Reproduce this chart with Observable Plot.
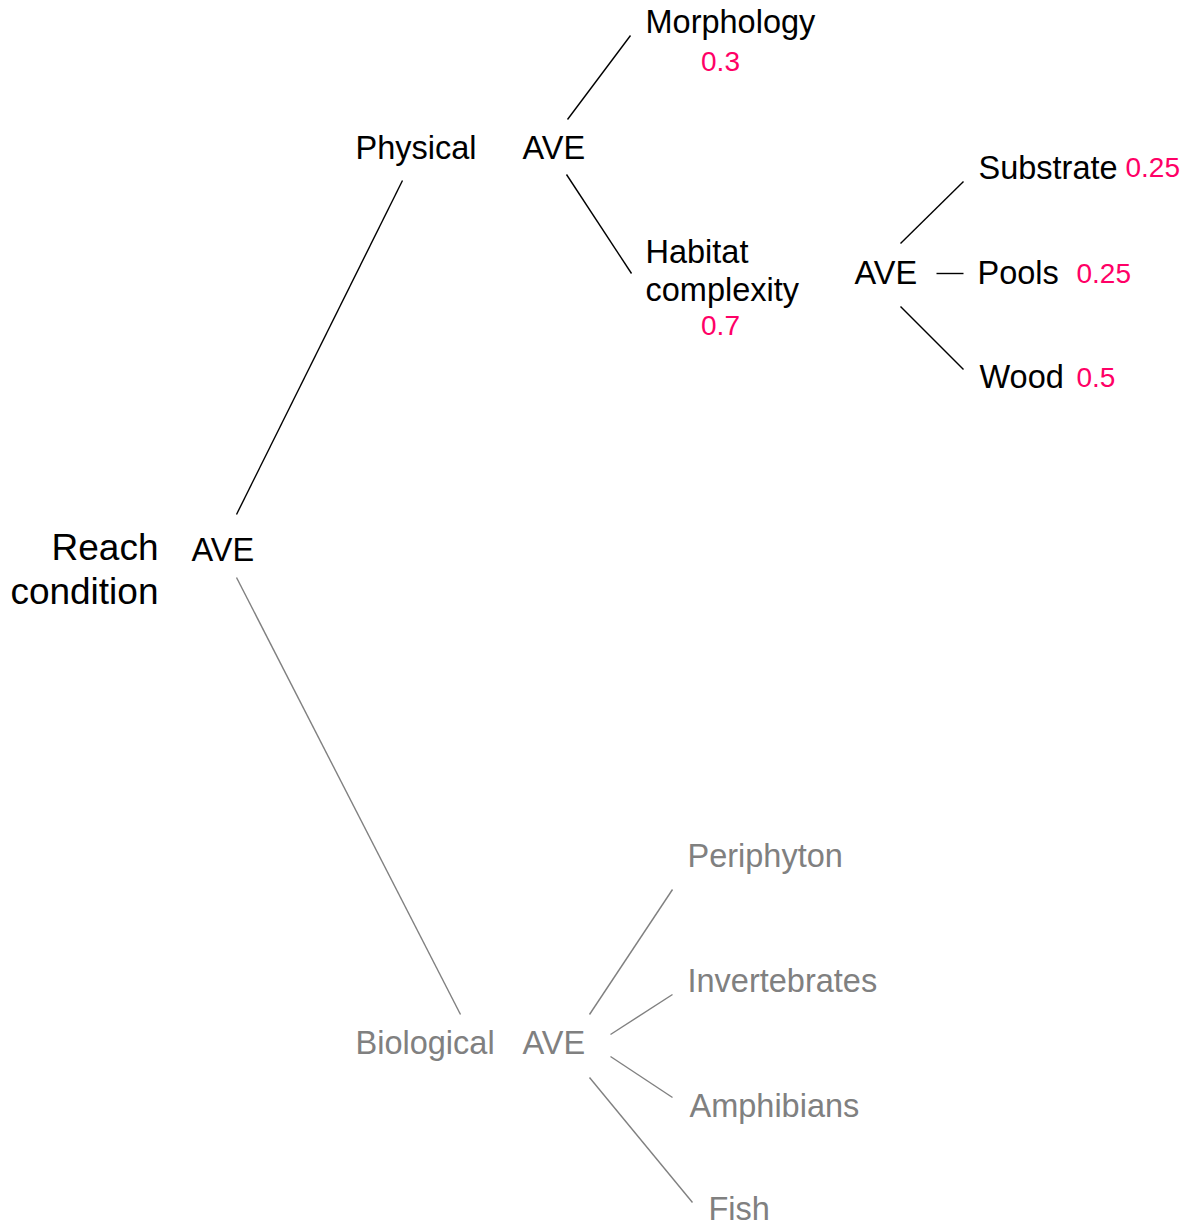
<!DOCTYPE html>
<html>
<head>
<meta charset="utf-8">
<script src="https://cdn.jsdelivr.net/npm/d3@7"></script>
<script src="https://cdn.jsdelivr.net/npm/@observablehq/plot@0.6"></script>
<style>
  html, body { margin: 0; padding: 0; background: #ffffff; }
  #chart svg { display: block; }
</style>
</head>
<body>
<div id="chart"></div>
<script>
// ---- Tree nodes (labels, branch membership, layout position in layout units) ----
const nodeLabels = ["Reach\ncondition", "AVE", "Physical", "AVE", "Morphology", "Habitat\ncomplexity",
  "AVE", "Substrate", "Pools", "Wood", "Biological", "AVE", "Periphyton", "Invertebrates", "Amphibians", "Fish"];
const nodeBranch = ["root", "root", "physical", "physical", "physical", "physical",
  "physical", "physical", "physical", "physical", "biological", "biological", "biological", "biological", "biological", "biological"];
const nodeLevel = ["title", "node", "node", "node", "node", "node",
  "node", "node", "node", "node", "node", "node", "node", "node", "node", "node"];
const nodeX = [158, 191, 355, 522, 645, 645, 854, 978, 977, 979, 355, 522, 687, 687, 689, 708];
const nodeY = [567, 548, 146, 146, 20, 269, 271, 166, 271, 375, 1041, 1041, 854, 979, 1104, 1207];

// ---- Weights attached to nodes ----
const weightLabels = ["0.3", "0.7", "0.25", "0.25", "0.5"];
const weightX = [720, 720, 1125, 1076, 1076];
const weightY = [61.5, 325.5, 168, 274, 378];
const weightAlign = ["middle", "middle", "start", "start", "start"];

// ---- Edges (parent -> child) with endpoints in layout units ----
const edgeFrom = ["Reach AVE", "Reach AVE", "Physical AVE", "Physical AVE", "Habitat AVE", "Habitat AVE", "Habitat AVE",
  "Biological AVE", "Biological AVE", "Biological AVE", "Biological AVE"];
const edgeTo = ["Physical", "Biological", "Morphology", "Habitat complexity", "Substrate", "Pools", "Wood",
  "Periphyton", "Invertebrates", "Amphibians", "Fish"];
const edgeBranch = ["physical", "biological", "physical", "physical", "physical", "physical", "physical",
  "biological", "biological", "biological", "biological"];
const edgeX1 = [236, 236, 567, 566, 900, 936, 900, 589, 610, 610, 589];
const edgeY1 = [514, 577, 119, 174, 243, 273, 306, 1014, 1034, 1056, 1077];
const edgeX2 = [402, 460, 630, 631, 963, 963, 963, 672, 672, 672, 692];
const edgeY2 = [180, 1014, 35, 273, 181, 273, 369, 889, 994, 1097, 1202];

// ---- Build tables ----
const nodes = nodeLabels.map((label, i) => ({
  label, branch: nodeBranch[i], level: nodeLevel[i], x: nodeX[i], y: nodeY[i]
}));
const weights = weightLabels.map((label, i) => ({label, x: weightX[i], y: weightY[i], align: weightAlign[i]}));
const edges = edgeFrom.map((from, i) => ({
  from, to: edgeTo[i], branch: edgeBranch[i],
  x1: edgeX1[i], y1: edgeY1[i], x2: edgeX2[i], y2: edgeY2[i]
}));

const branchColor = {root: "#000000", physical: "#000000", biological: "#808080"};
const FONT = "'Liberation Sans', Arial, Helvetica, sans-serif";

const chart = Plot.plot({
  width: 1189,
  height: 1226,
  margin: 0,
  style: {fontFamily: FONT, background: "#ffffff"},
  x: {domain: [0, 1189], range: [0, 1189], axis: null},
  y: {domain: [0, 1226], range: [0, 1226], axis: null},
  marks: [
    Plot.link(edges, {
      x1: "x1", y1: "y1", x2: "x2", y2: "y2",
      stroke: d => branchColor[d.branch],
      strokeWidth: 1.4
    }),
    // root title (right-aligned, larger)
    Plot.text(nodes.filter(d => d.level === "title"), {
      x: "x", y: "y", text: "label",
      textAnchor: "end", lineAnchor: "middle", lineHeight: 1.19,
      fontSize: 37, fontFamily: FONT,
      fill: d => branchColor[d.branch]
    }),
    // other nodes (left-aligned)
    Plot.text(nodes.filter(d => d.level === "node"), {
      x: "x", y: "y", text: "label",
      textAnchor: "start", lineAnchor: "middle", lineHeight: 1.18,
      fontSize: 32.5, fontFamily: FONT,
      fill: d => branchColor[d.branch]
    }),
    // weights
    Plot.text(weights.filter(d => d.align === "middle"), {
      x: "x", y: "y", text: "label",
      textAnchor: "middle", lineAnchor: "middle",
      fontSize: 28, fontFamily: FONT, fill: "#ff0066"
    }),
    Plot.text(weights.filter(d => d.align === "start"), {
      x: "x", y: "y", text: "label",
      textAnchor: "start", lineAnchor: "middle",
      fontSize: 28, fontFamily: FONT, fill: "#ff0066"
    })
  ]
});
document.getElementById("chart").appendChild(chart);
</script>
</body>
</html>
